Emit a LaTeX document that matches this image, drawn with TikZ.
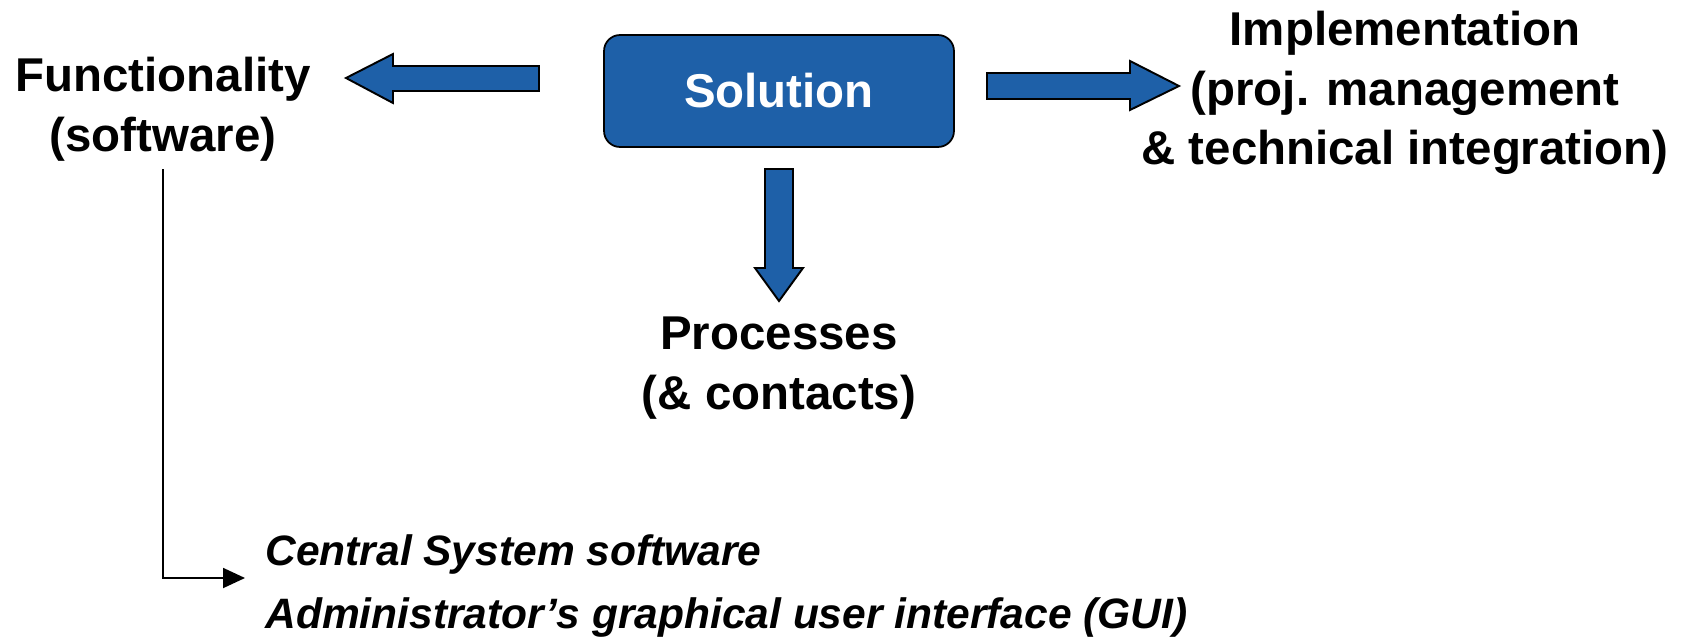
\documentclass[tikz,border=0pt]{standalone}
\usepackage{fontspec}
\setmainfont{Liberation Sans}
\usetikzlibrary{arrows.meta}
\definecolor{solblue}{RGB}{30,96,168}
\tikzset{
  head/.style={font=\fontsize{27}{34}\selectfont\bfseries, align=center, inner sep=0pt},
  solbox/.style={draw=black, line width=1pt, fill=solblue, rounded corners=0.32cm,
    minimum width=7cm, minimum height=2.24cm, text=white,
    font=\fontsize{27}{34}\selectfont\bfseries},
  blockarrow/.style={fill=solblue, draw=black, line width=1.1pt, line join=miter},
  itemlist/.style={font=\fontsize{24.2}{35.8}\selectfont\bfseries\itshape, align=left, inner sep=0pt},
}
\begin{document}
\begin{tikzpicture}[x=0.02cm, y=-0.02cm]
    \useasboundingbox (0,0) rectangle (1684,636);
    % centre box
    \node[solbox] (sol) at (779,91) {\raisebox{-0.05cm}{Solution}};
    % the three outcomes
    \node[head] (func) at (163,109) {Functionality\\(software)};
    \node[head] (impl) at (1405,93) {Implementation\\(proj. management\\\& technical integration)};
    \node[head] (proc) at (779,368) {Processes\\(\& contacts)};
        \draw[blockarrow] (539,66) -- (393,66) -- (393,54) -- (346,78)
            -- (393,103) -- (393,91) -- (539,91) -- cycle;
        \draw[blockarrow] (987,73) -- (1130,73) -- (1130,61) -- (1179,86)
            -- (1130,110) -- (1130,99) -- (987,99) -- cycle;
        \draw[blockarrow] (765,169) -- (793,169) -- (793,268) -- (803,268)
            -- (779,301) -- (755,268) -- (765,268) -- cycle;
    % software list
    \node[itemlist, anchor=west] (swlist) at (265,586) {Central System software\\Administrator’s graphical user interface (GUI)};
    \coordinate (swtip) at (245,578);
    \draw[line width=1.1pt, -{Triangle[length=0.44cm, width=0.4cm]}]
        ([yshift=-0.16cm]func.south) |- (swtip);
\end{tikzpicture}
\end{document}
